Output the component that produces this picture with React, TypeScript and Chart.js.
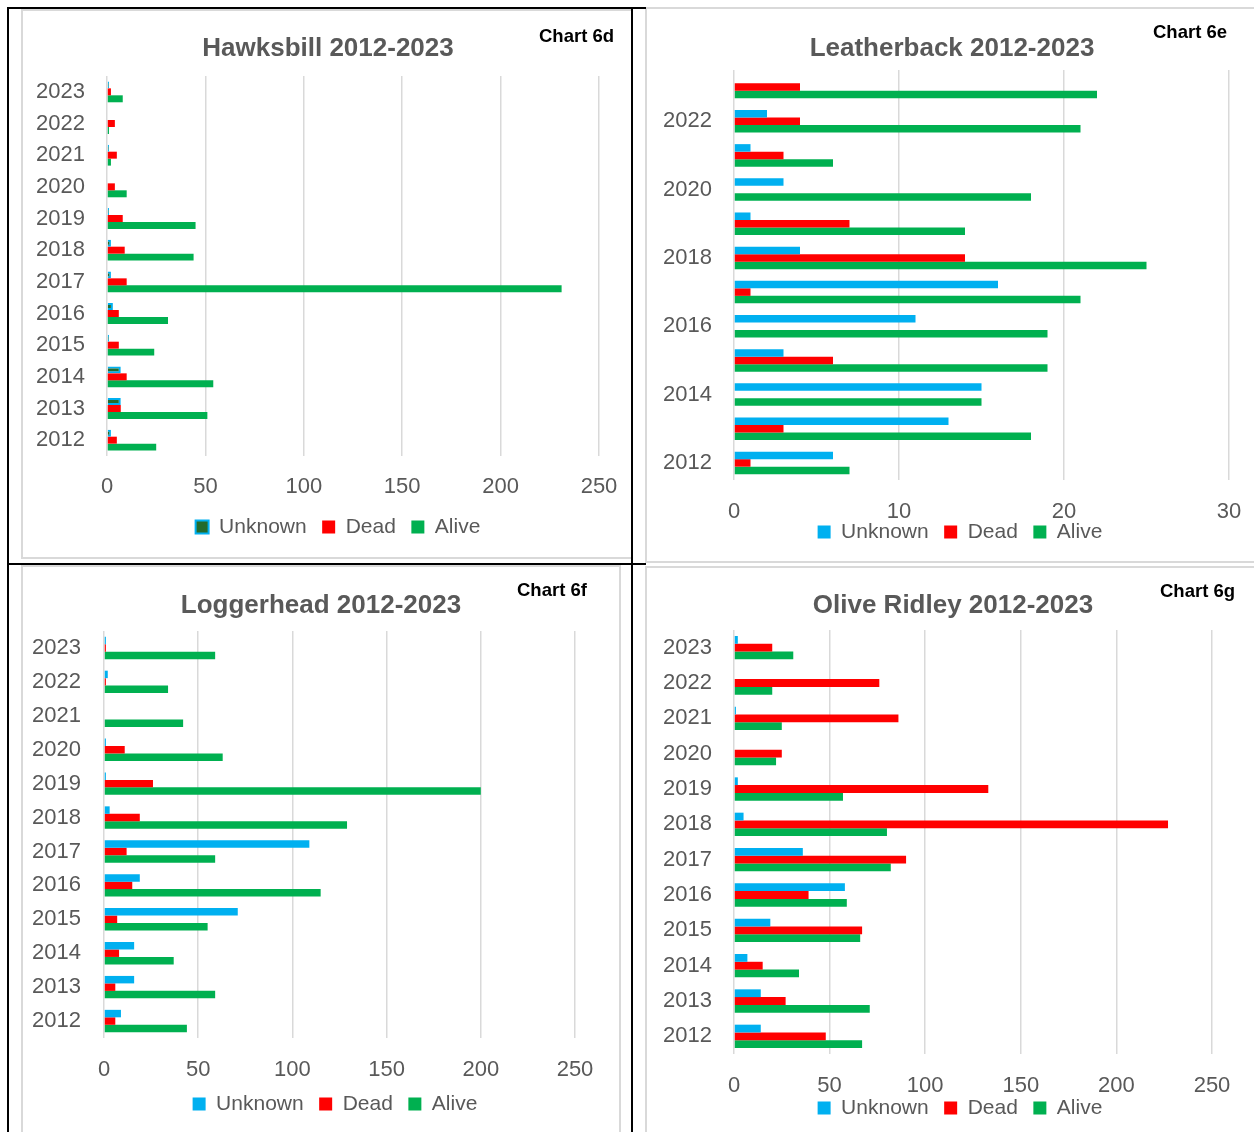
import { useEffect, useRef } from "react";
import { Chart, registerables } from "chart.js";

Chart.register(...registerables);

// Shared categories and series
const years = ["2012", "2013", "2014", "2015", "2016", "2017", "2018", "2019", "2020", "2021", "2022", "2023"];
const seriesNames = ["Unknown", "Dead", "Alive"];

// Hawksbill counts, 2012 → 2023
const hawksbillUnknown = [2, 7, 7, 1, 3, 2, 2, 1, 0, 1, 0, 1];
const hawksbillDead = [5, 7, 10, 6, 6, 10, 9, 8, 4, 5, 4, 2];
const hawksbillAlive = [25, 51, 54, 24, 31, 231, 44, 45, 10, 2, 1, 8];

// Leatherback counts, 2012 → 2023
const leatherbackUnknown = [6, 13, 15, 3, 11, 16, 4, 1, 3, 1, 2, 0];
const leatherbackDead = [1, 3, 0, 6, 0, 1, 14, 7, 0, 3, 4, 4];
const leatherbackAlive = [7, 18, 15, 19, 19, 21, 25, 14, 18, 6, 21, 22];

// Loggerhead counts, 2012 → 2023
const loggerheadUnknown = [9, 16, 16, 71, 19, 109, 3, 1, 1, 0, 2, 1];
const loggerheadDead = [6, 6, 8, 7, 15, 12, 19, 26, 11, 0, 1, 1];
const loggerheadAlive = [44, 59, 37, 55, 115, 59, 129, 200, 63, 42, 34, 59];

// Olive Ridley counts, 2012 → 2023
const oliveUnknown = [14, 14, 7, 19, 58, 36, 5, 2, 0, 1, 0, 2];
const oliveDead = [48, 27, 15, 67, 39, 90, 227, 133, 25, 86, 76, 20];
const oliveAlive = [67, 71, 34, 66, 59, 82, 80, 57, 22, 25, 20, 31];

// Axis tick settings
const countTicks = { max: 250, step: 50 };
const leatherbackTicks = { max: 30, step: 10 };

const BLUE = "#00B0F0";
const RED = "#FF0000";
const GREEN = "#00B050";
const DARK_GREEN = "#236B2C";
const GRID = "#D9D9D9";
const TEXT = "#595959";
const SANS = '"Liberation Sans", Arial, Helvetica, sans-serif';

type Rect = { left: number; top: number; width: number; height: number };

type PanelSpec = {
  title: string;
  tag: string;
  unknown: number[];
  dead: number[];
  alive: number[];
  ticks: { max: number; step: number };
  hollowUnknown?: boolean;
  alternateYears?: boolean;
  box: Rect;
  area: { left: number; right: number; top: number; bottom: number };
  legend: { x: number; y: number };
  titlePos: { x: number; y: number };
  tagPos: { x: number; y: number };
  xLabelOffset: number;
  yLabelGap: number;
};

const panels: PanelSpec[] = [
  {
    title: "Hawksbill 2012-2023",
    tag: "Chart 6d",
    unknown: hawksbillUnknown,
    dead: hawksbillDead,
    alive: hawksbillAlive,
    ticks: countTicks,
    hollowUnknown: true,
    box: { left: 23, top: 11, width: 608, height: 545 },
    area: { left: 84, right: 576, top: 65, bottom: 445 },
    legend: { x: 315, y: 516 },
    titlePos: { x: 305, y: 38 },
    tagPos: { x: 516, y: 26 },
    xLabelOffset: 31,
    yLabelGap: 22,
  },
  {
    title: "Leatherback 2012-2023",
    tag: "Chart 6e",
    unknown: leatherbackUnknown,
    dead: leatherbackDead,
    alive: leatherbackAlive,
    ticks: leatherbackTicks,
    alternateYears: true,
    box: { left: 647, top: 9, width: 607, height: 552 },
    area: { left: 87, right: 582, top: 61, bottom: 471 },
    legend: { x: 313, y: 523 },
    titlePos: { x: 305, y: 40 },
    tagPos: { x: 506, y: 24 },
    xLabelOffset: 32,
    yLabelGap: 22,
  },
  {
    title: "Loggerhead 2012-2023",
    tag: "Chart 6f",
    unknown: loggerheadUnknown,
    dead: loggerheadDead,
    alive: loggerheadAlive,
    ticks: countTicks,
    box: { left: 23, top: 568, width: 596, height: 564 },
    area: { left: 81, right: 552, top: 63, bottom: 470 },
    legend: { x: 312, y: 536 },
    titlePos: { x: 298, y: 38 },
    tagPos: { x: 494, y: 23 },
    xLabelOffset: 32,
    yLabelGap: 23,
  },
  {
    title: "Olive Ridley 2012-2023",
    tag: "Chart 6g",
    unknown: oliveUnknown,
    dead: oliveDead,
    alive: oliveAlive,
    ticks: countTicks,
    box: { left: 647, top: 568, width: 607, height: 564 },
    area: { left: 87, right: 565, top: 62, bottom: 486 },
    legend: { x: 313, y: 540 },
    titlePos: { x: 306, y: 38 },
    tagPos: { x: 513, y: 24 },
    xLabelOffset: 32,
    yLabelGap: 22,
  },
];

const TICK_FONT = 22;
const LEGEND_FONT = 21;
const LEGEND_PAD = 15.5;
const LEGEND_BOX = 13;

// Heading, chart number tag, and legend placement
const captionPlugin = {
  id: "captions",
  afterLayout(chart: any, _args: any, opts: any) {
    const lg = chart.legend;
    if (!lg) return;
    const half = (lg.right - lg.left) / 2;
    lg.left = opts.legendX - half;
    lg.right = opts.legendX + half;
    const itemHeight = Math.max(LEGEND_FONT, LEGEND_BOX);
    const top = opts.legendY - LEGEND_PAD - itemHeight / 2;
    const h = itemHeight + LEGEND_PAD + 10;
    lg.top = top;
    lg.bottom = top + h;
    lg.height = h;
  },
  afterDraw(chart: any, _args: any, opts: any) {
    const ctx = chart.ctx as CanvasRenderingContext2D;
    ctx.save();
    ctx.textBaseline = "middle";
    ctx.textAlign = "center";
    ctx.fillStyle = TEXT;
    ctx.font = `bold 26px ${SANS}`;
    ctx.fillText(opts.title, opts.titleX, opts.titleY);
    ctx.textAlign = "left";
    ctx.fillStyle = "#000000";
    ctx.font = `bold 18.5px ${SANS}`;
    ctx.fillText(opts.tag, opts.tagX, opts.tagY);
    ctx.restore();
  },
};

function Panel({ spec }: { spec: PanelSpec }) {
  const ref = useRef<HTMLCanvasElement | null>(null);

  useEffect(() => {
    if (!ref.current) return;
    const W = spec.box.width;
    const H = spec.box.height;
    const padRight = W - spec.area.right;
    const axisHeight = H - spec.area.bottom - 1;
    const tickLen = spec.xLabelOffset - (TICK_FONT * 1.2) / 2;

    const chart = new Chart(ref.current, {
      type: "bar",
      data: {
        labels: years,
        datasets: [
          {
            label: seriesNames[0],
            data: spec.unknown,
            backgroundColor: spec.hollowUnknown ? DARK_GREEN : BLUE,
            borderColor: BLUE,
            borderWidth: spec.hollowUnknown ? 2 : 0,
          },
          { label: seriesNames[1], data: spec.dead, backgroundColor: RED, borderColor: RED, borderWidth: 0 },
          { label: seriesNames[2], data: spec.alive, backgroundColor: GREEN, borderColor: GREEN, borderWidth: 0 },
        ],
      },
      options: {
        indexAxis: "y",
        responsive: false,
        animation: false,
        maintainAspectRatio: false,
        datasets: { bar: { barPercentage: 1, categoryPercentage: 0.66 } },
        layout: { padding: { left: 0, right: padRight, top: spec.area.top, bottom: 0 } },
        scales: {
          x: {
            type: "linear",
            min: 0,
            max: spec.ticks.max,
            grid: {
              color: GRID,
              lineWidth: 1.5,
              drawTicks: true,
              tickLength: tickLen,
              tickColor: "rgba(0,0,0,0)",
            },
            border: { display: false },
            ticks: {
              stepSize: spec.ticks.step,
              color: TEXT,
              padding: 0,
              font: { family: SANS, size: TICK_FONT },
            },
            afterFit: (scale: any) => {
              scale.height = axisHeight;
            },
          },
          y: {
            type: "category",
            reverse: true,
            grid: { display: false, drawTicks: false },
            border: { display: false },
            ticks: {
              autoSkip: false,
              color: TEXT,
              padding: spec.yLabelGap,
              font: { family: SANS, size: TICK_FONT },
              callback: (_v: any, i: number) => (spec.alternateYears && i % 2 === 1 ? "" : years[i]),
            },
            afterFit: (scale: any) => {
              scale.width = spec.area.left;
            },
          },
        },
        plugins: {
          legend: {
            position: "bottom",
            maxHeight: 1,
            labels: {
              color: TEXT,
              boxWidth: LEGEND_BOX,
              boxHeight: LEGEND_BOX,
              padding: LEGEND_PAD,
              font: { family: SANS, size: LEGEND_FONT },
            },
          },
          tooltip: { enabled: false },
          captions: {
            title: spec.title,
            tag: spec.tag,
            titleX: spec.titlePos.x,
            titleY: spec.titlePos.y,
            tagX: spec.tagPos.x,
            tagY: spec.tagPos.y,
            legendX: spec.legend.x,
            legendY: spec.legend.y,
          },
        } as any,
      },
      plugins: [captionPlugin],
    });
    return () => chart.destroy();
  }, [spec]);

  return (
    <canvas
      ref={ref}
      width={spec.box.width}
      height={spec.box.height}
      style={{ position: "absolute", left: spec.box.left, top: spec.box.top, width: spec.box.width, height: spec.box.height }}
    />
  );
}

const frameBoxes: Rect[] = [
  { left: 21, top: 9, width: 612, height: 550 },
  { left: 645, top: 7, width: 620, height: 556 },
  { left: 21, top: 565, width: 600, height: 580 },
  { left: 645, top: 566, width: 620, height: 580 },
];

const blackRules: Rect[] = [
  { left: 7, top: 7, width: 639, height: 2 },
  { left: 7, top: 7, width: 2, height: 1125 },
  { left: 631, top: 7, width: 2, height: 1125 },
  { left: 7, top: 563, width: 639, height: 2 },
];

export default function App() {
  useEffect(() => {
    document.body.style.overflow = "hidden";
  }, []);
  return (
    <div style={{ position: "absolute", left: 0, top: 0, width: 1254, height: 1132, overflow: "hidden", background: "#ffffff" }}>
      {frameBoxes.map((r, i) => (
        <div
          key={`f${i}`}
          style={{ position: "absolute", ...r, boxSizing: "border-box", border: `2px solid ${GRID}` }}
        />
      ))}
      {panels.map((p) => (
        <Panel key={p.tag} spec={p} />
      ))}
      {blackRules.map((r, i) => (
        <div key={`b${i}`} style={{ position: "absolute", ...r, background: "#000000" }} />
      ))}
    </div>
  );
}
